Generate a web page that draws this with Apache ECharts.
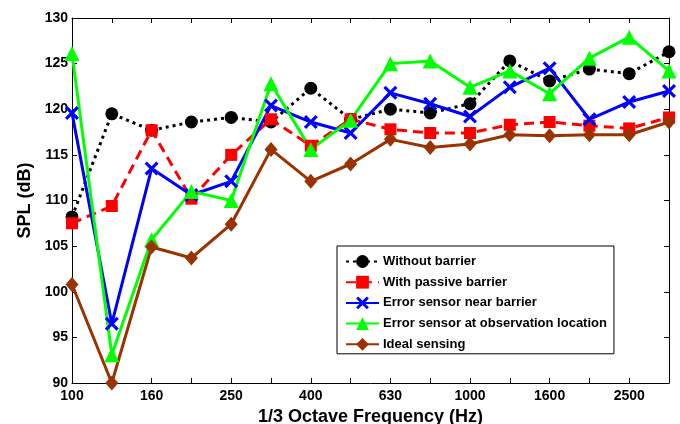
<!DOCTYPE html>
<html>
<head>
<meta charset="utf-8">
<script src="https://cdn.jsdelivr.net/npm/echarts@6/dist/echarts.min.js"></script>
<style>html,body{margin:0;padding:0;background:#fff}#c{width:680px;height:424px}</style>
</head>
<body>
<div id="c"></div>
<script>
const frequencies = ['100','125','160','200','250','315','400','500','630','800','1000','1250','1600','2000','2500','3150'];
const withoutBarrier = [108.2,119.5,117.7,118.6,119.1,118.6,122.3,118.9,120.0,119.6,120.6,125.3,123.1,124.4,123.9,126.3];
const passiveBarrier = [107.5,109.4,117.7,110.2,115.0,118.9,116.0,118.9,117.8,117.4,117.4,118.3,118.6,118.2,117.9,119.1];
const sensorNearBarrier = [119.6,96.5,113.5,110.6,112.1,120.4,118.6,117.4,121.8,120.6,119.2,122.4,124.5,118.9,120.8,122.0];
const sensorAtObservation = [126.1,93.1,105.7,111.0,110.0,122.8,115.6,118.8,125.0,125.3,122.4,124.2,121.7,125.6,127.9,124.2];
const idealSensing = [100.8,90.0,104.9,103.7,107.4,115.6,112.1,114.0,116.7,115.8,116.2,117.2,117.1,117.2,117.2,118.6];
const seriesNames = ['Without barrier','With passive barrier','Error sensor near barrier','Error sensor at observation location','Ideal sensing'];

const FONT = 'Liberation Sans, Arial, sans-serif';
const xMark = 'path://M0,1.6L1.6,0L5,3.4L8.4,0L10,1.6L6.6,5L10,8.4L8.4,10L5,6.6L1.6,10L0,8.4L3.4,5Z';

function mk(name, data, color, lineType, symbol, size) {
  return {
    name: name, type: 'line', data: data,
    symbol: symbol, symbolSize: size,
    lineStyle: {color: color, width: 3, type: lineType},
    itemStyle: {color: color},
    emphasis: {disabled: true},
    animation: false
  };
}

const chart = echarts.init(document.getElementById('c'));
const tickStyle = {color: '#000', fontWeight: 'bold', fontSize: 14, fontFamily: FONT};
chart.setOption({
  backgroundColor: '#fff',
  animation: false,
  grid: {left: 72, right: 11, top: 18, bottom: 41, outerBoundsMode: 'none'},
  legend: {
    orient: 'vertical', left: 337, top: 246,
    backgroundColor: '#fff', borderColor: '#000', borderWidth: 1,
    padding: [9, 7, 3, 8], itemWidth: 33, itemHeight: 16, itemGap: 7.7,
    textStyle: {color: '#000', fontWeight: 'bold', fontSize: 13, fontFamily: FONT, padding: [0,0,0,-1]},
    data: seriesNames
  },
  xAxis: [{
    type: 'category', data: frequencies, boundaryGap: false,
    name: '1/3 Octave Frequency (Hz)', nameLocation: 'middle', nameGap: 19,
    nameTextStyle: {color: '#000', fontWeight: 'bold', fontSize: 18, fontFamily: FONT},
    axisLine: {lineStyle: {color: '#000', width: 1}},
    axisTick: {inside: true, length: 5, interval: 0, lineStyle: {color: '#000'}},
    axisLabel: Object.assign({interval: 1, margin: 6}, tickStyle),
    splitLine: {show: false}
  }, {
    type: 'category', data: frequencies, boundaryGap: false, position: 'top',
    axisLine: {lineStyle: {color: '#000', width: 1}},
    axisTick: {inside: true, length: 5, interval: 0, lineStyle: {color: '#000'}},
    axisLabel: {show: false}, splitLine: {show: false}
  }],
  yAxis: [{
    type: 'value', min: 90, max: 130, interval: 5,
    name: 'SPL (dB)', nameLocation: 'middle', nameGap: 36, nameRotate: 90,
    nameTextStyle: {color: '#000', fontWeight: 'bold', fontSize: 18, fontFamily: FONT},
    axisLine: {show: true, lineStyle: {color: '#000', width: 1}},
    axisTick: {show: true, inside: true, length: 5, lineStyle: {color: '#000'}},
    axisLabel: Object.assign({margin: 4}, tickStyle),
    splitLine: {show: false}
  }, {
    type: 'value', min: 90, max: 130, interval: 5, position: 'right',
    axisLine: {show: true, lineStyle: {color: '#000', width: 1}},
    axisTick: {show: true, inside: true, length: 5, lineStyle: {color: '#000'}},
    axisLabel: {show: false}, splitLine: {show: false}
  }],
  series: [
    mk(seriesNames[0], withoutBarrier, '#000000', [3, 4], 'circle', 13),
    mk(seriesNames[1], passiveBarrier, '#ff0000', [10, 6], 'rect', 12),
    mk(seriesNames[2], sensorNearBarrier, '#0000ff', 'solid', xMark, 14),
    mk(seriesNames[3], sensorAtObservation, '#00ff00', 'solid', 'triangle', 15),
    mk(seriesNames[4], idealSensing, '#993300', 'solid', 'diamond', [13, 15])
  ]
});
</script>
</body>
</html>
